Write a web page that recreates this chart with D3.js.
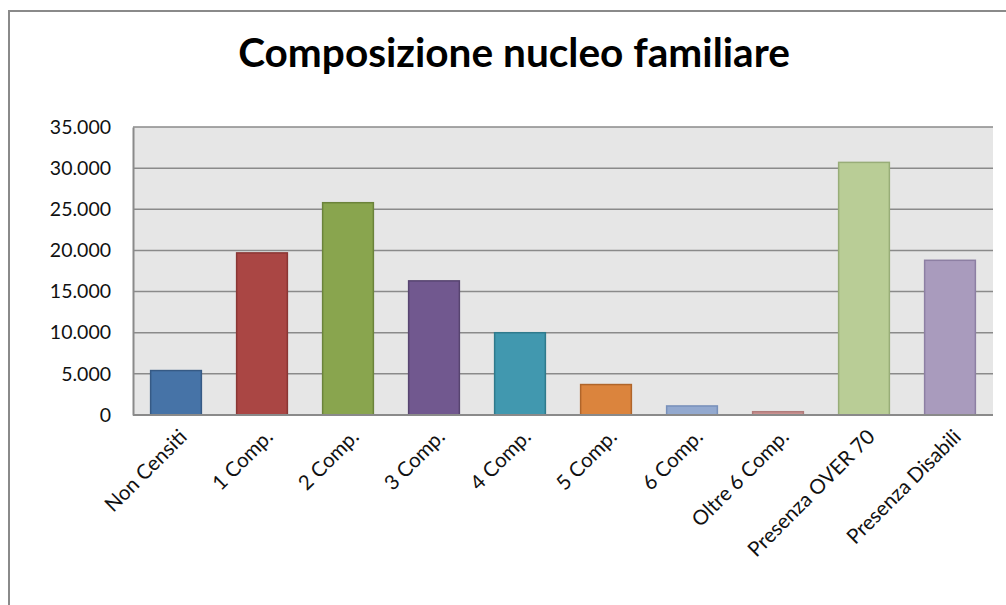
<!DOCTYPE html>
<html>
<head>
<meta charset="utf-8">
<script src="https://cdn.jsdelivr.net/npm/d3@7"></script>
<style>
  body { margin: 0; background: #fff; }
  svg { display: block; font-family: Lato, "Open Sans", sans-serif; }
</style>
</head>
<body>
<div id="chart"></div>
<script>
// data
var categories = ["Non Censiti", "1 Comp.", "2 Comp.", "3 Comp.", "4 Comp.", "5 Comp.",
  "6 Comp.", "Oltre 6 Comp.", "Presenza OVER 70", "Presenza Disabili"];
var values = [5400, 19700, 25800, 16300, 10000, 3700, 1100, 400, 30700, 18800];
var yTicks = [0, 5000, 10000, 15000, 20000, 25000, 30000, 35000];
var fills = ["#4673a7", "#aa4644", "#89a54e", "#71588f", "#4198af", "#db843d",
  "#93a9cf", "#c99190", "#b9cd96", "#a99bbd"];
var strokes = ["#365a85", "#8a3634", "#6b833b", "#574470", "#2f7a8c", "#b0652a",
  "#7890ba", "#b07b7a", "#98ad78", "#8d7fa3"];

var svgWidth = 1006;
var svgHeight = 605;

var margin = { top: 127, right: 13, bottom: 190, left: 133 };
var width = svgWidth - margin.left - margin.right;
var height = svgHeight - margin.top - margin.bottom;

var svg = d3.select("#chart")
  .append("svg")
  .attr("width", svgWidth)
  .attr("height", svgHeight);

// chart area border (right / bottom edges fall outside the picture)
svg.append("path")
  .attr("d", "M9,620 V11 H1020")
  .attr("fill", "none")
  .attr("stroke", "#8a8a8a")
  .attr("stroke-width", 2);

// title, stretched to the width seen in the picture
var title = svg.append("text")
  .attr("x", 514)
  .attr("y", 67)
  .attr("text-anchor", "middle")
  .attr("font-size", "34px")
  .attr("font-weight", "bold")
  .attr("fill", "#000")
  .text("Composizione nucleo familiare");
var tw = title.node().getComputedTextLength();
title.attr("font-size", (34 * 552 / tw) + "px");

var chartGroup = svg.append("g")
  .attr("transform", `translate(${margin.left}, ${margin.top})`);

var xScale = d3.scaleBand()
  .domain(categories)
  .range([0, width])
  .paddingInner(0.41)
  .paddingOuter(0.205);

var yScale = d3.scaleLinear()
  .domain([0, 35000])
  .range([height, 0]);

// plot background
chartGroup.append("rect")
  .attr("width", width)
  .attr("height", height)
  .attr("fill", "#e6e6e6");

// gridlines
chartGroup.append("g")
  .selectAll("line")
  .data(yTicks.filter(d => d > 0))
  .enter()
  .append("line")
  .attr("x1", 0)
  .attr("x2", width)
  .attr("y1", d => yScale(d))
  .attr("y2", d => yScale(d))
  .attr("stroke", "#8a8a8a")
  .attr("stroke-width", 1.5);

// bars
chartGroup.selectAll(".bar")
  .data(values)
  .enter()
  .append("rect")
  .classed("bar", true)
  .attr("x", (d, i) => xScale(categories[i]))
  .attr("y", d => yScale(d))
  .attr("width", xScale.bandwidth())
  .attr("height", d => height - yScale(d))
  .attr("fill", (d, i) => fills[i])
  .attr("stroke", (d, i) => strokes[i])
  .attr("stroke-width", 1.5);

// y axis
var leftAxis = d3.axisLeft(yScale)
  .tickValues(yTicks)
  .tickSize(0)
  .tickPadding(22)
  .tickFormat(d => d === 0 ? "0" : d3.format(",")(d).replace(/,/g, "."));

var yAxis = chartGroup.append("g").call(leftAxis);
yAxis.select(".domain")
  .attr("stroke", "#8a8a8a")
  .attr("stroke-width", 2);
yAxis.selectAll("text")
  .attr("font-size", "19.5px")
  .attr("font-family", "Lato, sans-serif")
  .attr("fill", "#111");

// x axis line
chartGroup.append("line")
  .attr("x1", 0)
  .attr("x2", width)
  .attr("y1", height)
  .attr("y2", height)
  .attr("stroke", "#8a8a8a")
  .attr("stroke-width", 2);

// rotated category labels
chartGroup.selectAll(".xlabel")
  .data(categories)
  .enter()
  .append("text")
  .classed("xlabel", true)
  .attr("transform", d => `translate(${xScale(d) + xScale.bandwidth() / 2 + 2}, ${height + 13}) rotate(-45)`)
  .attr("text-anchor", "end")
  .attr("dy", "0.7em")
  .attr("font-size", "20.5px")
  .attr("fill", "#111")
  .text(d => d);
</script>
</body>
</html>
